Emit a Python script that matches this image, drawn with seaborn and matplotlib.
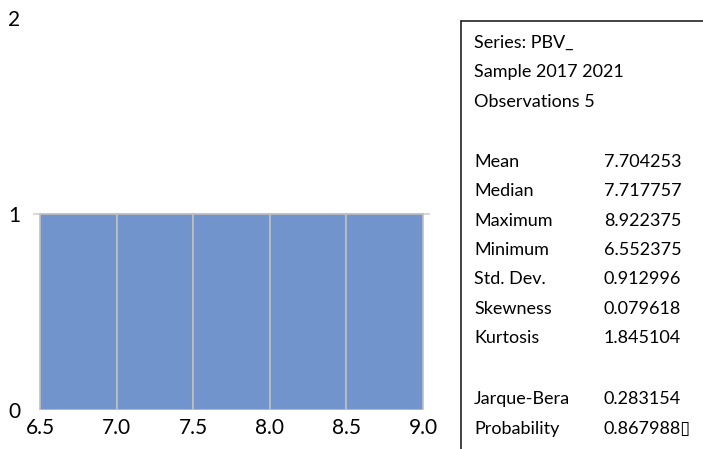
import numpy as np
import pandas as pd
import matplotlib
matplotlib.use('Agg')
import matplotlib.pyplot as plt
from matplotlib.lines import Line2D
import seaborn as sns

# PBV_ observations 2017-2021 (reconstructed to match the reported stats)
pbv = [6.552375, 7.154377, 7.717757, 8.174381, 8.922375]
bin_edges = [6.5, 7.0, 7.5, 8.0, 8.5, 9.0]
x_ticks = [6.5, 7.0, 7.5, 8.0, 8.5, 9.0]
y_ticks = [0, 1, 2]

header_lines = ['Series: PBV_', 'Sample 2017 2021', 'Observations 5']
stat_names = ['Mean', 'Median', 'Maximum', 'Minimum', 'Std. Dev.', 'Skewness', 'Kurtosis']
stat_values = ['7.704253', '7.717757', '8.922375', '6.552375', '0.912996', '0.079618', '1.845104']
test_names = ['Jarque-Bera', 'Probability']
test_values = ['0.283154', '0.867988\u25af']

sns.set_theme(style='white')
plt.rcParams['font.family'] = ['Lato', 'DejaVu Sans']
plt.rcParams['text.color'] = 'black'
plt.rcParams['xtick.color'] = 'black'
plt.rcParams['ytick.color'] = 'black'

df = pd.DataFrame({'PBV_': pbv})

fig = plt.figure(figsize=(7.03, 4.49), dpi=100)
ax = fig.add_axes([33 / 703, 1 - 410 / 449, (430 - 33) / 703, (410 - 18) / 449])

ax.axhline(1, color='#d9d9d9', lw=1.5, zorder=0)
sns.histplot(data=df, x='PBV_', bins=bin_edges, ax=ax, color='#7294cc', alpha=1,
             edgecolor='#bfbfbf', linewidth=1.2, zorder=2)

ax.set_xlim(6.454, 9.046)
ax.set_ylim(0, 2)
ax.set_xticks(x_ticks)
ax.set_xticklabels([f'{v:.1f}' for v in x_ticks])
ax.set_yticks(y_ticks)
ax.set_yticklabels([str(v) for v in y_ticks])
ax.tick_params(axis='x', labelsize=15, pad=6, length=0)
ax.tick_params(axis='y', labelsize=15, pad=9, length=0)
ax.set_xlabel('')
ax.set_ylabel('')
for s in ax.spines.values():
    s.set_visible(False)

# stats box: left and top rules only
top = 1 - 21 / 449
fig.add_artist(Line2D([461 / 703, 461 / 703], [0, top], color='#222222', lw=1.2))
fig.add_artist(Line2D([461 / 703, 1], [top, top], color='#222222', lw=1.2))

lx, vx = 474 / 703, 604 / 703
fs = 13
for i, t in enumerate(header_lines):
    fig.text(lx, 1 - (48 + i * 29.5) / 449, t, fontsize=fs, va='baseline', ha='left')
for i, (n, v) in enumerate(zip(stat_names, stat_values)):
    y = 1 - (167 + i * 29.3) / 449
    fig.text(lx, y, n, fontsize=fs, va='baseline', ha='left')
    fig.text(vx, y, v, fontsize=fs, va='baseline', ha='left')
for i, (n, v) in enumerate(zip(test_names, test_values)):
    y = 1 - (404 + i * 30) / 449
    fig.text(lx, y, n, fontsize=fs, va='baseline', ha='left')
    fig.text(vx, y, v, fontsize=fs, va='baseline', ha='left')

fig.savefig('out.png', dpi=100)
